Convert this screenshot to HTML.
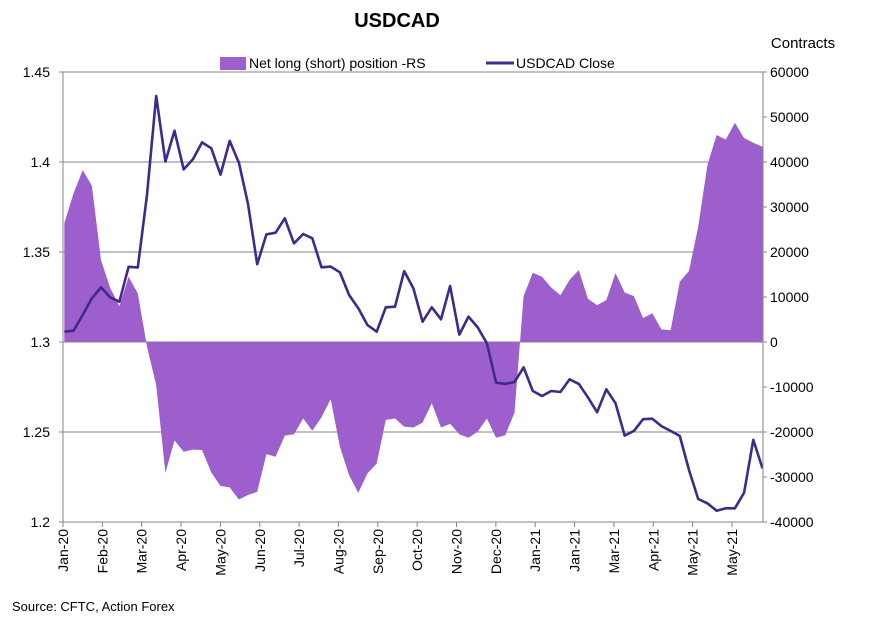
<!DOCTYPE html>
<html><head><meta charset="utf-8"><style>
body{margin:0;background:#fff;}
svg{display:block;font-family:"Liberation Sans",Arial,sans-serif;}
</style></head><body>
<svg id="chart" width="874" height="617" viewBox="0 0 874 617">
<text x="397" y="27" font-size="20" font-weight="bold" text-anchor="middle">USDCAD</text>
<text x="803" y="48" font-size="15" text-anchor="middle">Contracts</text>
<g>
<rect x="220" y="57" width="26" height="13" fill="#9C5FCC"/>
<text x="249" y="68" font-size="14">Net long (short) position -RS</text>
<line x1="486" y1="63" x2="514" y2="63" stroke="#3F2A8C" stroke-width="3"/>
<text x="516" y="68" font-size="14">USDCAD Close</text>
</g>
<g id="grid"></g>
<g id="area"></g>
<g id="line"></g>
<g id="axes"></g>
<text x="12" y="611" font-size="13">Source: CFTC, Action Forex</text>
</svg>
<script>
const xLabels = ["Jan-20","Feb-20","Mar-20","Apr-20","May-20","Jun-20","Jul-20","Aug-20","Sep-20","Oct-20","Nov-20","Dec-20","Jan-21","Jan-21","Mar-21","Apr-21","May-21","May-21"];
const leftTicks = [1.2,1.25,1.3,1.35,1.4,1.45];
const rightTicks = [-40000,-30000,-20000,-10000,0,10000,20000,30000,40000,50000,60000];
const closeVals = [1.3057,1.3063,1.315,1.3243,1.3304,1.3248,1.3224,1.3418,1.3414,1.3817,1.4367,1.4002,1.4174,1.3959,1.4015,1.4109,1.4076,1.393,1.4117,1.3996,1.3767,1.3432,1.3598,1.3607,1.3687,1.3548,1.36,1.3576,1.3415,1.3419,1.3387,1.3261,1.3187,1.3094,1.3057,1.3193,1.3196,1.3394,1.3298,1.3113,1.3193,1.3126,1.3311,1.3041,1.3141,1.3081,1.2993,1.2774,1.2767,1.2778,1.2859,1.2728,1.27,1.2728,1.2722,1.2793,1.2767,1.2693,1.261,1.2737,1.266,1.248,1.2506,1.2571,1.2574,1.2533,1.2506,1.2478,1.2289,1.2128,1.2104,1.2063,1.2076,1.2076,1.2163,1.2456,1.2298];
const positionVals = [26400,33000,38200,34700,18200,12000,8000,14500,10800,-1000,-9600,-29100,-21900,-24400,-23900,-24000,-29000,-32000,-32300,-35000,-34000,-33300,-24900,-25500,-20800,-20500,-17000,-19700,-16700,-12700,-23300,-29600,-33500,-29200,-27000,-17300,-17000,-18800,-19000,-17900,-13600,-19000,-18200,-20500,-21300,-19900,-17000,-21300,-20700,-15700,10200,15400,14500,12100,10400,13800,16000,9600,8200,9300,15300,11000,10200,5300,6400,2800,2600,13400,15800,25600,39300,46000,45000,48700,45300,44300,43400];

const NS="http://www.w3.org/2000/svg";
const L=63,R=763,T=72,B=522;
const yL=v=>T+(1.45-v)/0.25*(B-T);
const yR=c=>T+(60000-c)/100000*(B-T);
const n=closeVals.length;
const xP=i=>64.3+i*(762.5-64.3)/(n-1);
const xT=k=>L+k*39.35;
function mk(tag,attrs,parent){const e=document.createElementNS(NS,tag);for(const k in attrs)e.setAttribute(k,attrs[k]);parent.appendChild(e);return e;}
const grid=document.getElementById('grid'),axes=document.getElementById('axes');
leftTicks.forEach(v=>{
  const y=yL(v);
  if(v>1.2){const g=mk('line',{x1:L,x2:R,y1:y,y2:y,stroke:'#868686','stroke-width':1},grid);
  
  }
  const t=mk('text',{x:50,y:y+5,'font-size':14,'text-anchor':'end'},axes);t.textContent=String(v);
  
  
  mk('line',{x1:L-4,x2:L,y1:y,y2:y,stroke:'#868686'},axes);
});
rightTicks.forEach(c=>{
  const y=yR(c);
  mk('line',{x1:R,x2:R+4,y1:y,y2:y,stroke:'#868686'},axes);
  const t=mk('text',{x:770,y:y+5,'font-size':14},axes);t.textContent=String(c);
  
  
});
mk('line',{x1:L,x2:L,y1:T,y2:B,stroke:'#868686'},axes);
mk('line',{x1:R,x2:R,y1:T,y2:B,stroke:'#868686'},axes);
mk('line',{x1:L,x2:R,y1:B,y2:B,stroke:'#868686'},axes);
xLabels.forEach((lab,k)=>{
  const x=xT(k);
  mk('line',{x1:x,x2:x,y1:B,y2:B+5,stroke:'#868686'},axes);
  const t=mk('text',{x:0,y:0,'font-size':14,'text-anchor':'end',transform:`translate(${x+5},${B+7}) rotate(-90)`},axes);
  t.textContent=lab;
  
  
});
let d=`M${xP(0)},${yR(0)}`;
positionVals.forEach((c,i)=>{d+=` L${xP(i).toFixed(1)},${yR(c).toFixed(1)}`;});
d+=` L${xP(n-1)},${yR(0)} Z`;
const a=mk('path',{d:d,fill:'#9C5FCC'},document.getElementById('area'));


const z=mk('line',{x1:L,x2:R,y1:yR(0),y2:yR(0),stroke:'#868686'},grid);


const pts=closeVals.map((v,i)=>xP(i).toFixed(1)+','+yL(v).toFixed(1)).join(' ');
const pl=mk('polyline',{points:pts,fill:'none',stroke:'#3F2A8C','stroke-width':2.6,'stroke-linejoin':'round'},document.getElementById('line'));


</script>
</body></html>
